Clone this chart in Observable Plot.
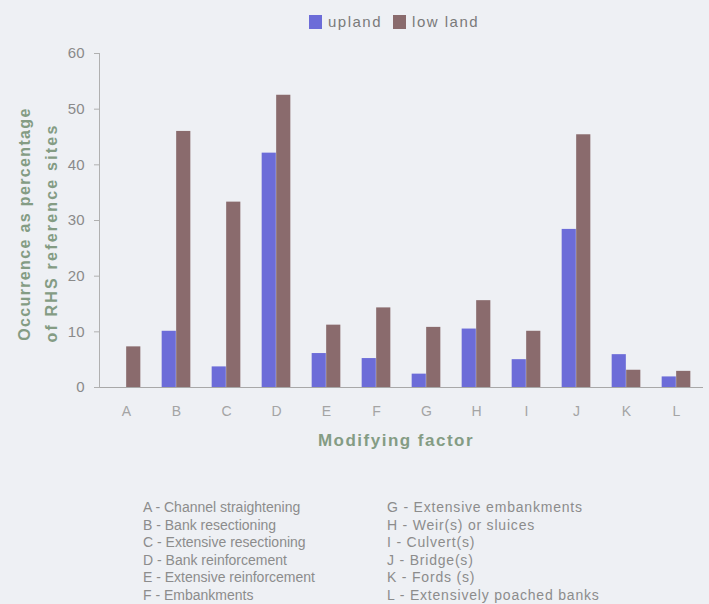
<!DOCTYPE html>
<html>
<head>
<meta charset="utf-8">
<script src="https://cdn.jsdelivr.net/npm/d3@7"></script>
<script src="https://cdn.jsdelivr.net/npm/@observablehq/plot@0.6"></script>
<style>
  html, body { margin: 0; padding: 0; }
  body { width: 709px; height: 604px; background: #eef0f4; position: relative; overflow: hidden;
         font-family: "Liberation Sans", Arial, sans-serif; }
  .abs { position: absolute; white-space: nowrap; }
  #legend { top: 13px; left: 309px; display: flex; align-items: center; font-size: 15px; color: #7a7a7a; letter-spacing: 1.5px; }
  #legend .sw { width: 13px; height: 14px; display: inline-block; margin-right: 6px; }
  #legend .item { display: flex; align-items: center; margin-right: 11px; }
  .ytitle { font-weight: bold; font-size: 16px; color: #849c84; transform: translate(-50%, -50%) rotate(-90deg); }
  #xtitle { font-weight: bold; font-size: 17px; color: #849c84; letter-spacing: 1.5px; transform: translate(-50%, -50%); left: 396px; top: 441px; }
  .col { font-size: 14px; line-height: 17.5px; color: #8c8c8c; }
</style>
</head>
<body>
<div id="chart" class="abs" style="left:0;top:0"></div>
<div id="legend" class="abs"></div>
<div class="abs ytitle" style="left:24.5px; top:224px; letter-spacing:1.35px">Occurrence as percentage</div>
<div class="abs ytitle" style="left:51.5px; top:233px; letter-spacing:2.2px">of RHS reference sites</div>
<div id="xtitle" class="abs">Modifying factor</div>
<div id="colLeft" class="abs col" style="left:143px; top:499px"></div>
<div id="colRight" class="abs col" style="left:387px; top:499px; letter-spacing:0.8px"></div>
<script>
const categories = ["A", "B", "C", "D", "E", "F", "G", "H", "I", "J", "K", "L"];
const upland  = [0, 10.1, 3.7, 42.1, 6.1, 5.2, 2.4, 10.5, 5.0, 28.4, 5.9, 1.9];
const lowland = [7.3, 46.0, 33.3, 52.5, 11.2, 14.3, 10.8, 15.6, 10.1, 45.4, 3.1, 2.9];
const seriesNames = ["upland", "low land"];
const seriesColors = ["#6c6cd8", "#8a6b6d"];
const yTicks = [0, 10, 20, 30, 40, 50, 60];
const factorLabels = [
  "A - Channel straightening",
  "B - Bank resectioning",
  "C - Extensive resectioning",
  "D - Bank reinforcement",
  "E - Extensive reinforcement",
  "F - Embankments",
  "G - Extensive embankments",
  "H - Weir(s) or sluices",
  "I  - Culvert(s)",
  "J - Bridge(s)",
  "K - Fords (s)",
  "L - Extensively poached banks"
];

const upData = categories.map((c, i) => ({cat: c, value: upland[i]}));
const lowData = categories.map((c, i) => ({cat: c, value: lowland[i]}));

const half = 604 / 12 / 2;
const barW = 14.5;

const plot = Plot.plot({
  width: 709,
  height: 460,
  marginLeft: 99,
  marginRight: 6,
  marginTop: 53,
  marginBottom: 73,
  style: {background: "transparent", fontFamily: "'Liberation Sans', Arial, sans-serif", color: "#8c8c8c", overflow: "visible"},
  x: {domain: categories, padding: 0, axis: null},
  y: {domain: [0, 60], axis: null},
  marks: [
    Plot.barY(upData, {x: "cat", y: "value", fill: seriesColors[0], insetLeft: half - barW, insetRight: half}),
    Plot.barY(lowData, {x: "cat", y: "value", fill: seriesColors[1], insetLeft: half, insetRight: half - barW}),
    Plot.axisY({ticks: yTicks, tickSize: 5, tickPadding: 10, fontSize: 15, stroke: "#b0b0b0", fill: "#8a8a8a", label: null}),
    Plot.axisX({tickSize: 0, tickPadding: 19, fontSize: 14, fill: "#a4a4a4", label: null}),
    Plot.ruleY([0], {stroke: "#a8a8a8"}),
    Plot.frame({anchor: "left", stroke: "#b0b0b0"})
  ]
});
document.getElementById("chart").appendChild(plot);

const legend = document.getElementById("legend");
seriesNames.forEach((n, i) => {
  const item = document.createElement("span");
  item.className = "item";
  const sw = document.createElement("span");
  sw.className = "sw";
  sw.style.background = seriesColors[i];
  item.appendChild(sw);
  item.appendChild(document.createTextNode(n));
  legend.appendChild(item);
});

const left = document.getElementById("colLeft");
const right = document.getElementById("colRight");
factorLabels.forEach((t, i) => {
  const d = document.createElement("div");
  d.textContent = t;
  (i < 6 ? left : right).appendChild(d);
});
</script>
</body>
</html>
